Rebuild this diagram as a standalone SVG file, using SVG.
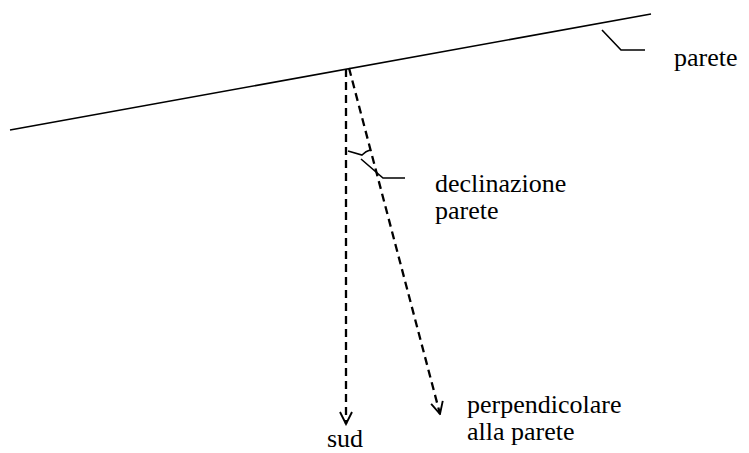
<svg xmlns="http://www.w3.org/2000/svg" width="749" height="453" viewBox="0 0 749 453">
<style>
.l{stroke:#000;stroke-width:1.6;fill:none}
.d{stroke:#000;stroke-width:2.3;fill:none;stroke-dasharray:8,5}
.t{font-family:'Liberation Serif','Times New Roman',serif;font-size:26px;fill:#000}
</style>
<defs>
<marker id="v" viewBox="0 0 20 20" refX="18" refY="10" markerWidth="15" markerHeight="15" markerUnits="userSpaceOnUse" orient="auto">
<path d="M2,2 L18,10 L2,18" fill="none" stroke="#000" stroke-width="2.5"/>
</marker>
</defs>
<rect width="749" height="453" fill="#fff"/>
<g id="parete">
<line class="l" x1="10" y1="130" x2="651" y2="14"/>
<polyline class="l" points="602,30 621,50 645,50"/>
<text class="t" x="674" y="66">parete</text>
</g>
<g id="connectors">
<line class="d" x1="346" y1="69" x2="346" y2="424" marker-end="url(#v)"/>
<line class="d" x1="349" y1="68" x2="440" y2="414" marker-end="url(#v)"/>
</g>
<g id="declinazione">
<path class="l" d="M348,151 Q355,153 362,155 Q366,151 370,150"/>
<polyline class="l" points="361,159 383,178 405,178"/>
<text class="t" x="435" y="192">declinazione</text>
<text class="t" x="435" y="219">parete</text>
</g>
<g id="sud">
<text class="t" x="327" y="447">sud</text>
</g>
<g id="perpendicolare">
<text class="t" x="467" y="413">perpendicolare</text>
<text class="t" x="467" y="440">alla parete</text>
</g>
</svg>
